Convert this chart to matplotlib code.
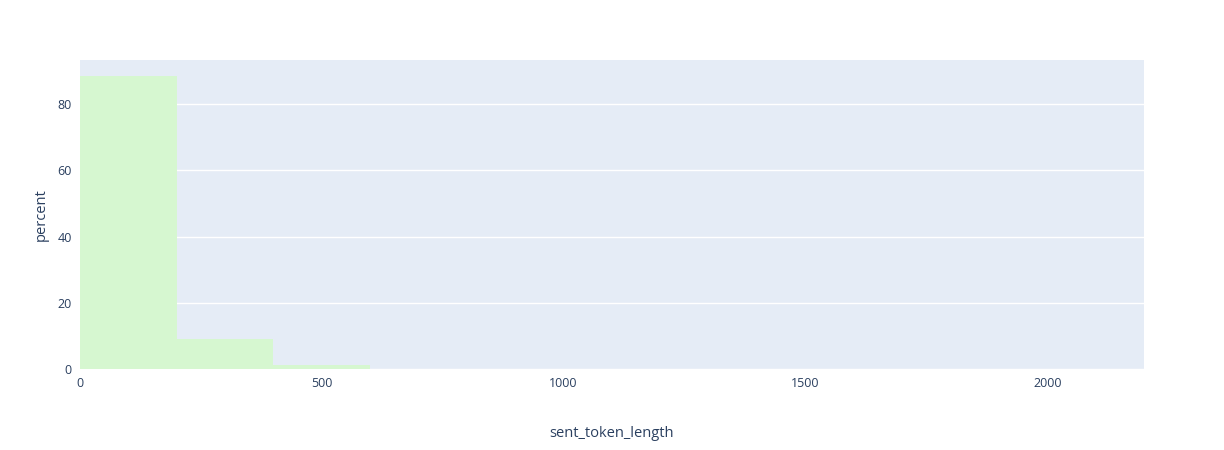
import matplotlib.pyplot as plt

plt.rcParams['font.family'] = ['Open Sans', 'DejaVu Sans']

# histogram bins (sent_token_length) and percent per bin
bin_edges = [0, 200, 400, 600, 800, 1000, 1200, 1400, 1600, 1800, 2000, 2200]
percent = [88.45, 9.05, 1.25, 0.12, 0.06, 0, 0, 0, 0, 0, 0.01]

x_ticks = [0, 500, 1000, 1500, 2000]
y_ticks = [0, 20, 40, 60, 80]

TEXT = '#2a3f5f'

fig = plt.figure(figsize=(12.24, 4.5), dpi=100)
ax = fig.add_axes([80 / 1224, 81 / 450, 1064 / 1224, 309 / 450])
ax.set_facecolor('#E5ECF6')

widths = [b - a for a, b in zip(bin_edges[:-1], bin_edges[1:])]
ax.bar(bin_edges[:-1], percent, width=widths, align='edge',
       color='#d6f7d0', linewidth=0, zorder=3)

ax.set_xlim(0, 2200)
ax.set_ylim(0, 93.3)
ax.set_xticks(x_ticks)
ax.set_yticks(y_ticks)
ax.grid(axis='y', color='white', linewidth=1, zorder=0)
ax.set_axisbelow(True)
for s in ax.spines.values():
    s.set_visible(False)
ax.tick_params(length=0, labelsize=9, labelcolor=TEXT, pad=6)

ax.set_xlabel('sent_token_length', fontsize=10.5, color=TEXT, labelpad=26)
ax.set_ylabel('percent', fontsize=10.5, color=TEXT, labelpad=6)

plt.savefig('out.png', dpi=100)
